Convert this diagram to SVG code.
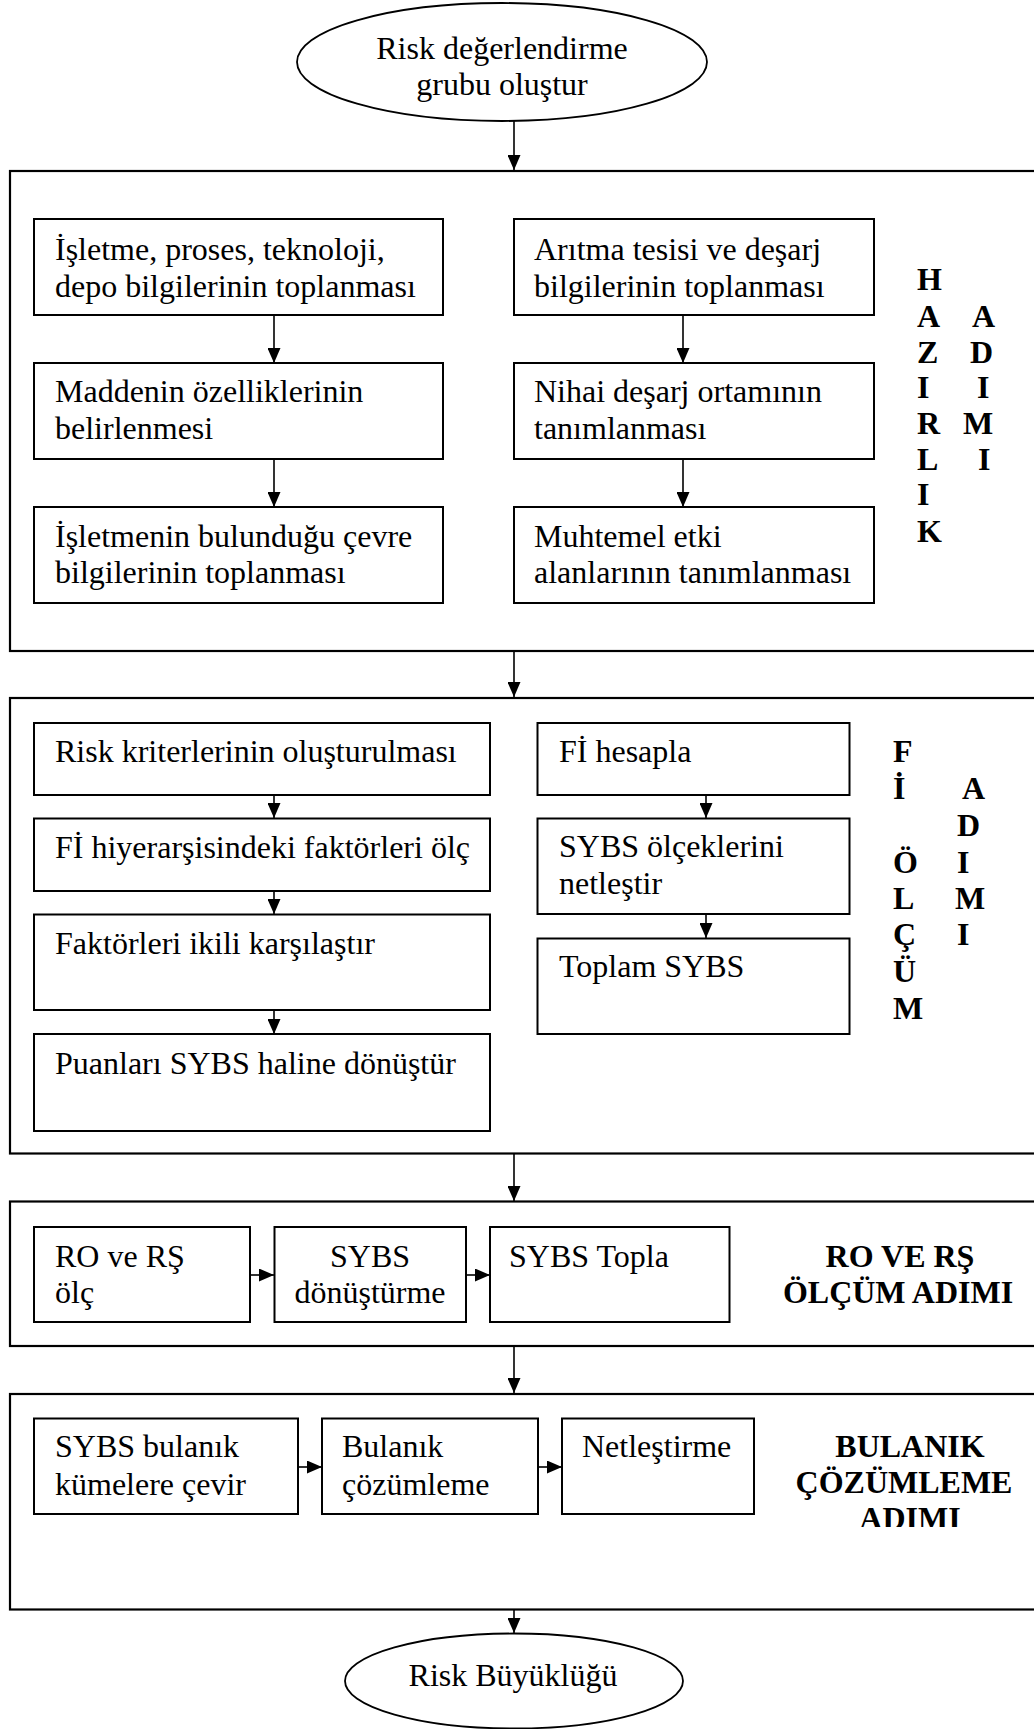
<svg xmlns="http://www.w3.org/2000/svg" width="1034" height="1729" viewBox="0 0 1034 1729">
  <defs>
    <style>
      text { font-family: "Liberation Serif", "Times New Roman", serif; font-size: 32px; fill: #000; }
      .b { font-weight: bold; }
      .m { text-anchor: middle; }
      .frame { fill: none; stroke: #000; stroke-width: 2.2; }
      .box { fill: #fff; stroke: #000; stroke-width: 2; }
      .oval { fill: #fff; stroke: #000; stroke-width: 1.8; }
      .link { fill: none; stroke: #000; stroke-width: 1.6; marker-end: url(#ah); }
    </style>
    <marker id="ah" markerUnits="userSpaceOnUse" markerWidth="15" markerHeight="13" refX="15" refY="6.5" orient="auto">
      <path d="M0,0 L15,6.5 L0,13 z" fill="#000"/>
    </marker>
    <clipPath id="labelClip">
      <rect x="760" y="1395" width="274" height="132"/>
    </clipPath>
  </defs>

  <rect x="0" y="0" width="1034" height="1729" fill="#fff"/>

  <!-- connectors -->
  <g id="connectors">
    <line class="link" x1="514" y1="121" x2="514" y2="170"/>
    <line class="link" x1="274" y1="315" x2="274" y2="363"/>
    <line class="link" x1="274" y1="459" x2="274" y2="507"/>
    <line class="link" x1="683" y1="315" x2="683" y2="363"/>
    <line class="link" x1="683" y1="459" x2="683" y2="507"/>
    <line class="link" x1="514" y1="651" x2="514" y2="697"/>
    <line class="link" x1="274" y1="795" x2="274" y2="818"/>
    <line class="link" x1="274" y1="891" x2="274" y2="914"/>
    <line class="link" x1="274" y1="1010" x2="274" y2="1034"/>
    <line class="link" x1="706" y1="795" x2="706" y2="818"/>
    <line class="link" x1="706" y1="914" x2="706" y2="938"/>
    <line class="link" x1="514" y1="1154" x2="514" y2="1201"/>
    <line class="link" x1="250" y1="1275" x2="274" y2="1275"/>
    <line class="link" x1="466" y1="1275" x2="490" y2="1275"/>
    <line class="link" x1="514" y1="1346" x2="514" y2="1393"/>
    <line class="link" x1="298" y1="1467" x2="322" y2="1467"/>
    <line class="link" x1="538" y1="1467" x2="562" y2="1467"/>
    <line class="link" x1="514" y1="1610" x2="514" y2="1633"/>
  </g>

  <!-- start -->
  <g id="start">
    <ellipse class="oval" cx="502" cy="62" rx="205" ry="59"/>
    <text class="m" x="502" y="59">Risk değerlendirme</text>
    <text class="m" x="502" y="95">grubu oluştur</text>
  </g>

  <!-- stage 1: preparation -->
  <g id="stage-hazirlik">
    <rect class="frame" x="10" y="171" width="1040" height="480"/>
    <g id="n-isletme">
      <rect class="box" x="34" y="219" width="409" height="96"/>
      <text x="55" y="260">İşletme, proses, teknoloji,</text>
      <text x="55" y="297">depo bilgilerinin toplanması</text>
    </g>
    <g id="n-madde">
      <rect class="box" x="34" y="363" width="409" height="96"/>
      <text x="55" y="402">Maddenin özelliklerinin</text>
      <text x="55" y="439">belirlenmesi</text>
    </g>
    <g id="n-cevre">
      <rect class="box" x="34" y="507" width="409" height="96"/>
      <text x="55" y="547">İşletmenin bulunduğu çevre</text>
      <text x="55" y="583">bilgilerinin toplanması</text>
    </g>
    <g id="n-aritma">
      <rect class="box" x="514" y="219" width="360" height="96"/>
      <text x="534" y="260">Arıtma tesisi ve deşarj</text>
      <text x="534" y="297">bilgilerinin toplanması</text>
    </g>
    <g id="n-nihai">
      <rect class="box" x="514" y="363" width="360" height="96"/>
      <text x="534" y="402">Nihai deşarj ortamının</text>
      <text x="534" y="439">tanımlanması</text>
    </g>
    <g id="n-etki">
      <rect class="box" x="514" y="507" width="360" height="96"/>
      <text x="534" y="547">Muhtemel etki</text>
      <text x="534" y="583">alanlarının tanımlanması</text>
    </g>
    <g id="label-hazirlik" class="b">
      <text class="b" x="917" y="290">H</text>
      <text class="b" x="917" y="327">A</text>
      <text class="b" x="917" y="363">Z</text>
      <text class="b" x="917" y="398">I</text>
      <text class="b" x="917" y="434">R</text>
      <text class="b" x="917" y="470">L</text>
      <text class="b" x="917" y="505">I</text>
      <text class="b" x="917" y="542">K</text>
      <text class="b" x="972" y="327">A</text>
      <text class="b" x="970" y="363">D</text>
      <text class="b" x="977" y="398">I</text>
      <text class="b" x="963" y="434">M</text>
      <text class="b" x="978" y="470">I</text>
    </g>
  </g>

  <!-- stage 2: FI measurement -->
  <g id="stage-fi">
    <rect class="frame" x="10" y="698" width="1040" height="455.5"/>
    <g id="n-kriter">
      <rect class="box" x="34" y="723" width="456" height="72"/>
      <text x="55" y="762">Risk kriterlerinin oluşturulması</text>
    </g>
    <g id="n-hiyerarsi">
      <rect class="box" x="34" y="818.5" width="456" height="72.5"/>
      <text x="55" y="858">Fİ hiyerarşisindeki faktörleri ölç</text>
    </g>
    <g id="n-ikili">
      <rect class="box" x="34" y="914.5" width="456" height="95.5"/>
      <text x="55" y="954">Faktörleri ikili karşılaştır</text>
    </g>
    <g id="n-puan">
      <rect class="box" x="34" y="1034" width="456" height="97"/>
      <text x="55" y="1074">Puanları SYBS haline dönüştür</text>
    </g>
    <g id="n-fi-hesap">
      <rect class="box" x="537.5" y="723" width="312" height="72"/>
      <text x="559" y="762">Fİ hesapla</text>
    </g>
    <g id="n-netlestir">
      <rect class="box" x="537.5" y="818.5" width="312" height="95.5"/>
      <text x="559" y="857">SYBS ölçeklerini</text>
      <text x="559" y="894">netleştir</text>
    </g>
    <g id="n-toplam">
      <rect class="box" x="537.5" y="938.5" width="312" height="95.5"/>
      <text x="559" y="977">Toplam SYBS</text>
    </g>
    <g id="label-fi">
      <text class="b" x="893" y="762">F</text>
      <text class="b" x="893" y="799">İ</text>
      <text class="b" x="893" y="873">Ö</text>
      <text class="b" x="893" y="909">L</text>
      <text class="b" x="893" y="945">Ç</text>
      <text class="b" x="893" y="982">Ü</text>
      <text class="b" x="893" y="1019">M</text>
      <text class="b" x="962" y="799">A</text>
      <text class="b" x="957" y="836">D</text>
      <text class="b" x="957" y="873">I</text>
      <text class="b" x="955" y="909">M</text>
      <text class="b" x="957" y="945">I</text>
    </g>
  </g>

  <!-- stage 3: RO and RS measurement -->
  <g id="stage-ro">
    <rect class="frame" x="10" y="1201.5" width="1040" height="144.5"/>
    <g id="n-ro-olc">
      <rect class="box" x="34" y="1227" width="216" height="95"/>
      <text x="55" y="1267">RO ve RŞ</text>
      <text x="55" y="1303">ölç</text>
    </g>
    <g id="n-sybs-donustur">
      <rect class="box" x="274.5" y="1227" width="191.5" height="95"/>
      <text class="m" x="370" y="1267">SYBS</text>
      <text class="m" x="370" y="1303">dönüştürme</text>
    </g>
    <g id="n-sybs-topla">
      <rect class="box" x="490" y="1227" width="239.5" height="95"/>
      <text x="509" y="1267">SYBS Topla</text>
    </g>
    <g id="label-ro">
      <text class="b m" x="900" y="1267">RO VE RŞ</text>
      <text class="b m" x="898" y="1303">ÖLÇÜM ADIMI</text>
    </g>
  </g>

  <!-- stage 4: fuzzy analysis -->
  <g id="stage-bulanik">
    <rect class="frame" x="10" y="1394" width="1040" height="215.5"/>
    <g id="n-kume">
      <rect class="box" x="34" y="1418.5" width="264" height="95.5"/>
      <text x="55" y="1457">SYBS bulanık</text>
      <text x="55" y="1495">kümelere çevir</text>
    </g>
    <g id="n-cozumleme">
      <rect class="box" x="322" y="1418.5" width="216" height="95.5"/>
      <text x="342" y="1457">Bulanık</text>
      <text x="342" y="1495">çözümleme</text>
    </g>
    <g id="n-netlestirme">
      <rect class="box" x="562" y="1418.5" width="192" height="95.5"/>
      <text x="582" y="1457">Netleştirme</text>
    </g>
    <g id="label-bulanik" clip-path="url(#labelClip)">
      <text class="b m" x="910" y="1457">BULANIK</text>
      <text class="b m" x="904" y="1493">ÇÖZÜMLEME</text>
      <text class="b m" x="910" y="1529">ADIMI</text>
    </g>
  </g>

  <!-- end -->
  <g id="end">
    <ellipse class="oval" cx="514" cy="1681" rx="169" ry="47.5"/>
    <text class="m" x="513" y="1686">Risk Büyüklüğü</text>
  </g>
</svg>
